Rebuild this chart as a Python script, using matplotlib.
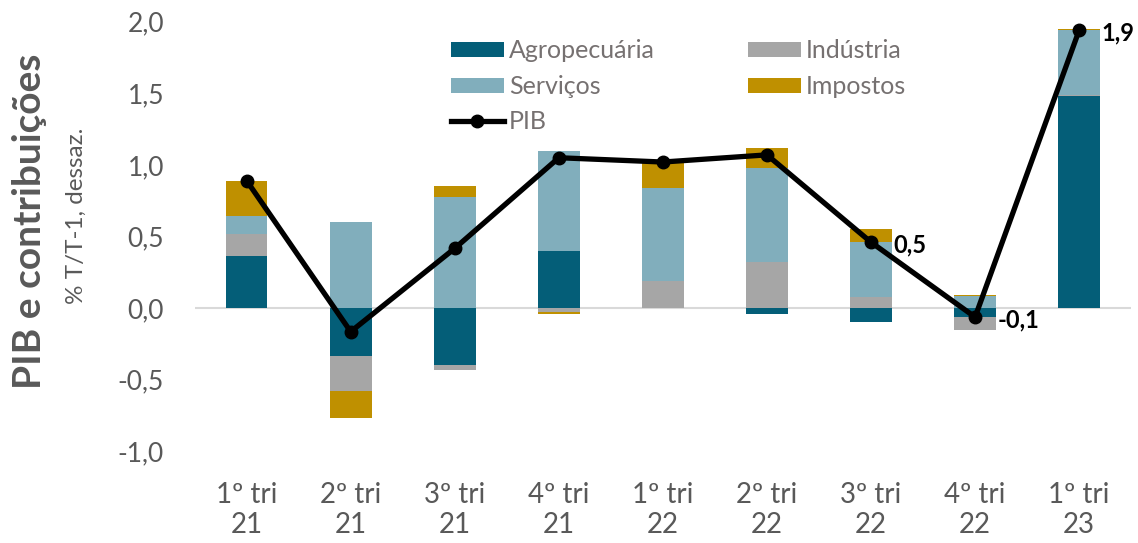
import numpy as np
import matplotlib.pyplot as plt

plt.rcParams['font.family'] = ['Lato', 'DejaVu Sans']

# Data (contribuições ao PIB, % T/T-1 dessaz.)
trimestres = ["1º tri\n21", "2º tri\n21", "3º tri\n21", "4º tri\n21", "1º tri\n22",
              "2º tri\n22", "3º tri\n22", "4º tri\n22", "1º tri\n23"]
agro = [0.365, -0.335, -0.40, 0.40, 0.0, -0.04, -0.095, -0.063, 1.48]
industria = [0.155, -0.245, -0.035, -0.03, 0.19, 0.32, 0.08, -0.087, 0.01]
servicos = [0.12, 0.60, 0.774, 0.70, 0.65, 0.66, 0.38, 0.085, 0.45]
impostos = [0.25, -0.185, 0.08, -0.01, 0.17, 0.14, 0.09, 0.005, 0.01]
pib = [0.89, -0.165, 0.417, 1.05, 1.02, 1.07, 0.46, -0.063, 1.94]

series = [("Agropecuária", agro, "#045E78"),
          ("Indústria", industria, "#A6A6A6"),
          ("Serviços", servicos, "#81AEBC"),
          ("Impostos", impostos, "#BF9000")]

fig = plt.figure(figsize=(11.38, 5.43), dpi=100)
ax = fig.add_axes([0.171, 0.169, 0.823, 0.791])

x = np.arange(len(trimestres))
pos_base = np.zeros(len(x))
neg_base = np.zeros(len(x))
handles = {}
for name, vals, color in series:
    vals = np.array(vals)
    bottoms = np.where(vals >= 0, pos_base, neg_base)
    b = ax.bar(x, vals, 0.4, bottom=bottoms, color=color, label=name, zorder=2)
    handles[name] = b
    pos_base = pos_base + np.where(vals >= 0, vals, 0)
    neg_base = neg_base + np.where(vals < 0, vals, 0)

line, = ax.plot(x, pib, color="black", lw=3.8, marker="o", markersize=9,
                label="PIB", zorder=4)

# rótulos dos últimos trimestres
for i in range(6, 9):
    lbl = f"{pib[i]:.1f}".replace(".", ",")
    ax.annotate(lbl, (x[i], pib[i]), xytext=(16, -2), textcoords="offset points",
                ha="left", va="center", fontsize=17, fontweight="bold", color="black")

ax.axhline(0, color="#D9D9D9", lw=1.5, zorder=1)

ax.set_xlim(-0.5, len(x) - 0.5)
ax.set_ylim(-1.0, 2.0)
ax.set_yticks(np.arange(-1.0, 2.01, 0.5))
ax.set_yticklabels([f"{v:.1f}".replace(".", ",") for v in np.arange(-1.0, 2.01, 0.5)])
ax.set_xticks(x)
ax.set_xticklabels(trimestres)
ax.tick_params(axis="y", length=0, pad=22, labelsize=19, labelcolor="#595959")
ax.tick_params(axis="x", length=0, pad=22, labelsize=20, labelcolor="#595959")
for s in ax.spines.values():
    s.set_visible(False)

fig.text(0.026, 0.593, "PIB e contribuições", rotation=90, ha="center", va="center",
         fontsize=28, fontweight="bold", color="#595959")
fig.text(0.067, 0.602, "% T/T-1, dessaz.", rotation=90, ha="center", va="center",
         fontsize=17.5, color="#595959")

leg = ax.legend([handles["Agropecuária"], handles["Serviços"], line,
                 handles["Indústria"], handles["Impostos"]],
                ["Agropecuária", "Serviços", "PIB", "Indústria", "Impostos"],
                ncol=2, loc="upper left", bbox_to_anchor=(0.25, 1.011),
                frameon=False, fontsize=18, labelcolor="#767171",
                handlelength=2.1, handleheight=0.56, handletextpad=0.2,
                columnspacing=3.75, labelspacing=0.5)

fig.savefig("out.png", dpi=100)
